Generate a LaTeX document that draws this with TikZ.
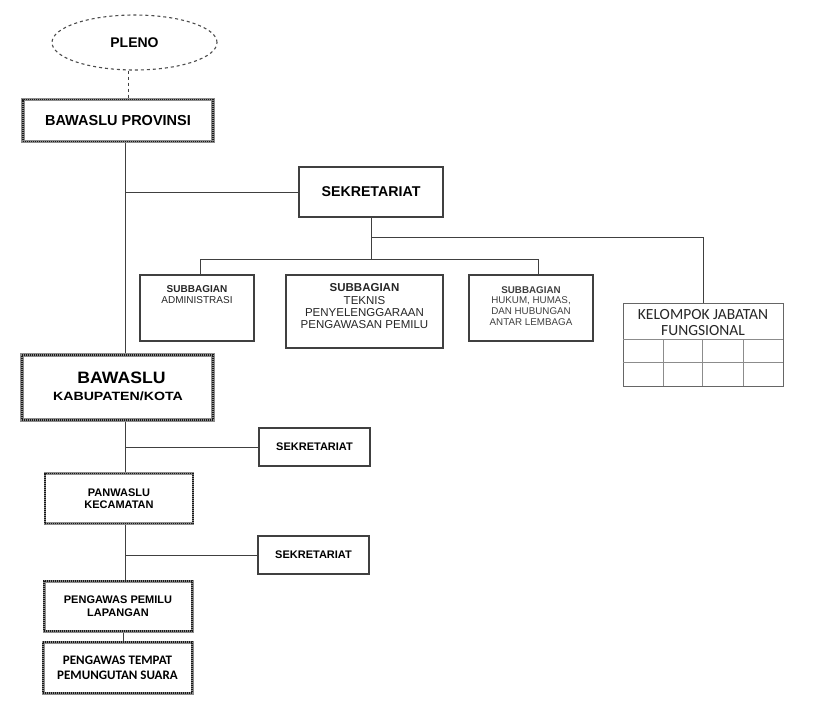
\documentclass[tikz,border=0pt]{standalone}
\usepackage{fontspec}
\setmainfont{Liberation Sans}
\newfontfamily\carl{Carlito}
\usetikzlibrary{shapes.geometric}
\tikzset{
  conn/.style={draw=black!75, line width=1pt},
  plainbox/.style={draw=black!75, line width=1.2pt, fill=white, inner sep=0pt, align=center},
  hatchbox/.style={draw=black!45, line width=3.6pt, fill=white, inner sep=0pt, align=center,
    postaction={draw=black!90, line width=1.6pt, dash pattern=on 0.9pt off 1.1pt}},
  txt/.style={inner sep=0pt, align=center, text=black!85},
}
\begin{document}
\begin{tikzpicture}[x=1pt,y=-1pt]
\useasboundingbox[fill=white] (0,0) rectangle (827,707);
\coordinate (spine) at (125,0);

% PLENO
\node[ellipse, draw=black!70, line width=1.1pt, dashed, minimum width=165pt, minimum height=55pt,
  font=\fontsize{14}{16}\selectfont\bfseries] (pleno) at (134.5,42.5) {PLENO};

% BAWASLU PROVINSI
\node[hatchbox, minimum width=190pt, minimum height=42pt, font=\fontsize{14.5}{16}\selectfont\bfseries]
  (prov) at (118,120.5) {BAWASLU PROVINSI};

% SEKRETARIAT top
\node[plainbox, minimum width=144pt, minimum height=50pt, font=\fontsize{14.2}{16}\selectfont\bfseries]
  (sek1) at (371,192) {SEKRETARIAT};

% Subbagian boxes
\node[plainbox, minimum width=114pt, minimum height=66pt] (adm) at (197,308) {};
\node[txt, anchor=north, font=\fontsize{10}{11}\selectfont] (admt) at (197,285)
  {\textbf{SUBBAGIAN}\\ADMINISTRASI};

\node[plainbox, minimum width=157pt, minimum height=73pt] (tek) at (364.5,311.5) {};
\node[txt, anchor=north, font=\fontsize{11.5}{12.4}\selectfont] (tekt) at (364.5,283.5)
  {\textbf{SUBBAGIAN}\\TEKNIS\\PENYELENGGARAAN\\PENGAWASAN PEMILU};

\node[plainbox, minimum width=124pt, minimum height=66pt] (huk) at (531,308) {};
\node[txt, anchor=north, text=black!75, font=\fontsize{9.8}{10.6}\selectfont] (hukt) at (531,286.3)
  {\textbf{SUBBAGIAN}\\HUKUM, HUMAS,\\DAN HUBUNGAN\\ANTAR LEMBAGA};

% Kelompok Jabatan Fungsional
\node[draw=black!60, line width=1pt, minimum width=160pt, minimum height=83pt, inner sep=0pt] (kel) at (703,344.5) {};
\node[txt, font=\carl\fontsize{15.5}{16}\selectfont] (kelt) at (703,322.5) {KELOMPOK JABATAN\\FUNGSIONAL};
\draw[draw=black!45, line width=1pt] (623,339) -- (783,339) (623,362) -- (783,362)
  (663,339) -- (663,386) (702,339) -- (702,386) (743,339) -- (743,386);

% BAWASLU KABUPATEN/KOTA
\node[hatchbox, minimum width=191pt, minimum height=65pt] (kab) at (117.5,387.5) {};
\node[txt, text=black, anchor=base, font=\fontsize{16.5}{18}\selectfont\bfseries] (kabt) at (121.5,383.3)
  {\scalebox{1.07}[1]{BAWASLU}};
\node[txt, text=black, anchor=base, font=\fontsize{12}{14}\selectfont\bfseries] (kabt2) at (118,400)
  {\scalebox{1.18}[1]{KABUPATEN/KOTA}};

% SEKRETARIAT 2
\node[plainbox, minimum width=111pt, minimum height=38pt, font=\fontsize{11}{12}\selectfont\bfseries]
  (sek2) at (314.5,447) {SEKRETARIAT};

% PANWASLU KECAMATAN
\node[hatchbox, line width=2.6pt, minimum width=148pt, minimum height=50pt,
  postaction={draw=black!90, line width=1.2pt, dash pattern=on 0.9pt off 1.1pt},
  font=\fontsize{11}{12.5}\selectfont\bfseries] (panw) at (119,498.5) {PANWASLU\\KECAMATAN};

% SEKRETARIAT 3
\node[plainbox, minimum width=111pt, minimum height=38pt, font=\fontsize{11}{12}\selectfont\bfseries]
  (sek3) at (313.5,555) {SEKRETARIAT};

% PENGAWAS PEMILU LAPANGAN
\node[hatchbox, line width=3pt, minimum width=148pt, minimum height=50pt,
  font=\fontsize{11}{13}\selectfont\bfseries] (ppl) at (118,606) {PENGAWAS PEMILU\\LAPANGAN};

% PENGAWAS TEMPAT PEMUNGUTAN SUARA
\node[hatchbox, line width=3pt, minimum width=149pt, minimum height=51pt,
  font=\carl\fontsize{13}{15}\selectfont\bfseries] (pts) at (117.5,667.5) {PENGAWAS TEMPAT\\PEMUNGUTAN SUARA};

% Connectors
\draw[conn, dashed] ([xshift=-6.5pt]pleno.south) -- ([xshift=10pt]prov.north);
\draw[conn] (prov.south -| spine) -- (kab.north -| spine);
\draw[conn] (sek1.west -| spine) -- (sek1.west);

\coordinate (busL) at (200,259);
\coordinate (busR) at (538,259);
\coordinate (brR) at (703,237);
\draw[conn] (sek1.south) -- (sek1.south |- busL);
\draw[conn] (busL |- adm.north) -- (busL) -- (busR) -- (busR |- huk.north);
\draw[conn] (sek1.south |- brR) -- (brR) -- (kel.north);

\draw[conn] (kab.south -| spine) -- (panw.north -| spine);
\draw[conn] (sek2.west -| spine) -- (sek2.west);
\draw[conn] (panw.south -| spine) -- (ppl.north -| spine);
\draw[conn] (sek3.west -| spine) -- (sek3.west);
\draw[conn] ([xshift=5pt]ppl.south) -- ([xshift=5.5pt]pts.north);
\end{tikzpicture}
\end{document}
